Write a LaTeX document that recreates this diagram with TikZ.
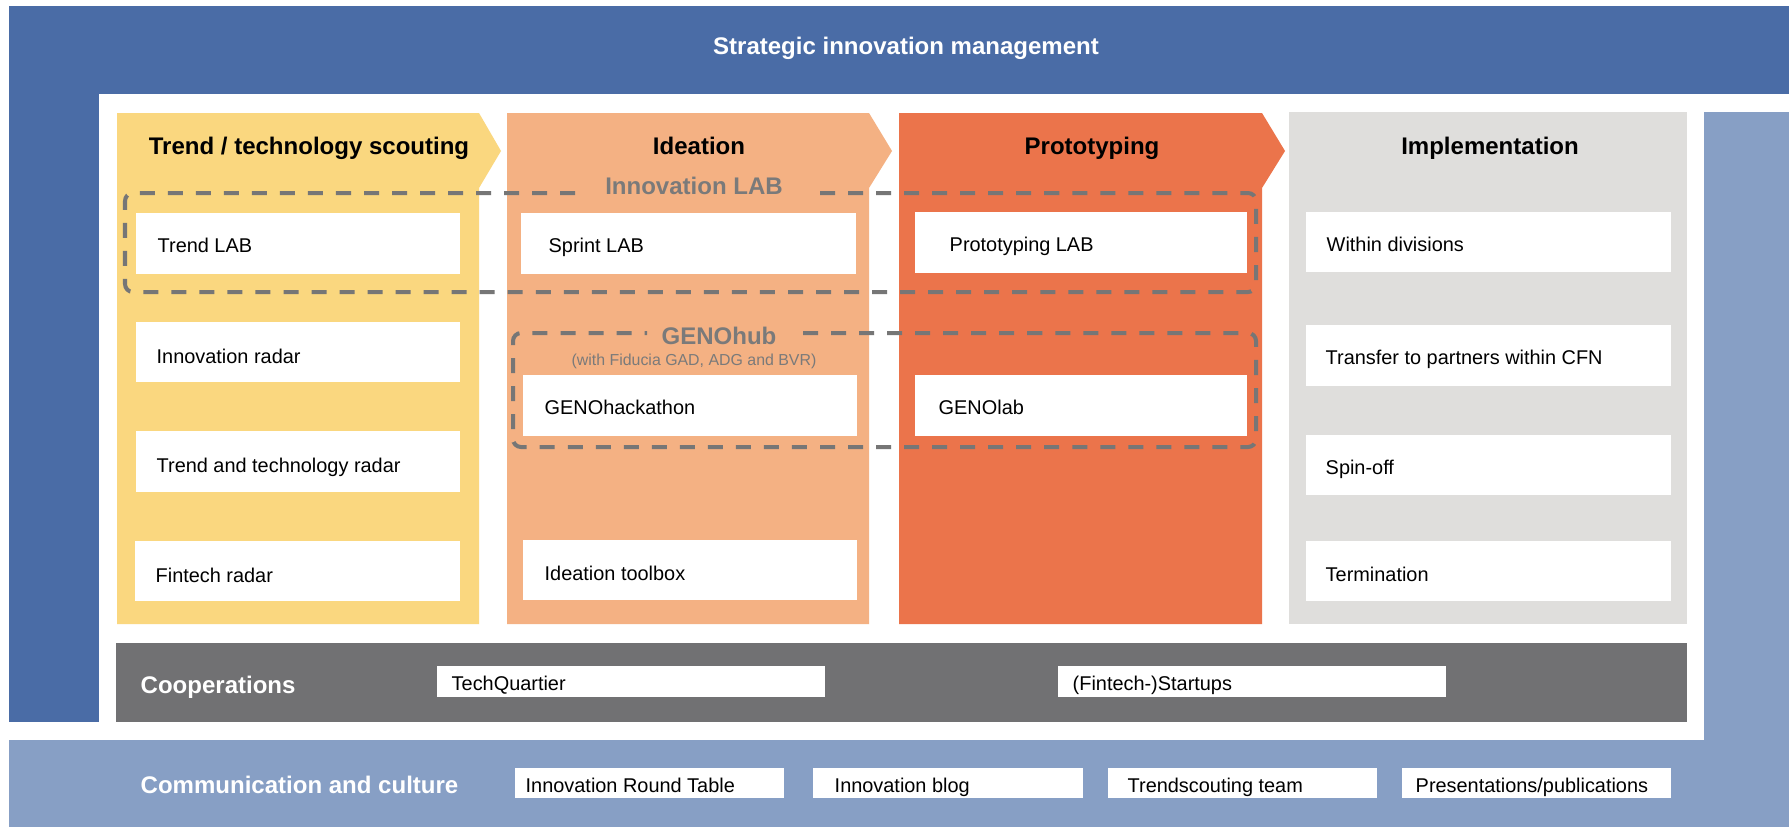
\documentclass[tikz,border=0pt]{standalone}
\usepackage{fontspec}
\setmainfont{Liberation Sans}

\definecolor{darkblue}{HTML}{4A6CA6}
\definecolor{lightblue}{HTML}{879FC5}
\definecolor{scoutyellow}{HTML}{FAD77F}
\definecolor{ideapeach}{HTML}{F4B183}
\definecolor{protoorange}{HTML}{EB744B}
\definecolor{implgrey}{HTML}{DFDEDC}
\definecolor{bargrey}{HTML}{717173}
\definecolor{dashgrey}{HTML}{767676}
\definecolor{labelgrey}{HTML}{7A7A7A}

\tikzset{
  cellbox/.style={fill=white, draw=none, anchor=north west, inner sep=0pt, outer sep=0pt},
  celltext/.style={anchor=base west, inner sep=0pt, font=\fontsize{5.66}{6.8}\selectfont, text=black},
  headtext/.style={anchor=base, inner sep=0pt, font=\fontsize{6.83}{8}\selectfont\bfseries, text=black},
  bandtext/.style={anchor=base west, inner sep=0pt, font=\fontsize{6.83}{8}\selectfont\bfseries, text=white},
  grouplabel/.style={anchor=base, inner sep=0pt, font=\fontsize{6.83}{8}\selectfont\bfseries, text=labelgrey},
  groupnote/.style={anchor=base, inner sep=0pt, font=\fontsize{4.52}{5.5}\selectfont, text=labelgrey},
  groupframe/.style={draw=dashgrey, line width=1.14pt, dash pattern=on 4.27pt off 3.7pt, rounded corners=0.08cm}
}

% white text cell: [extra drop of the baseline], name, x1, y1, x2, y2, left indent, text
\newcommand\mkcell[8][0]{%
  \node[cellbox, minimum width={(#5-#3)*0.01cm}, minimum height={(#6-#4)*0.01cm}] (#2) at (#3,#4) {};
  \node[celltext] (#2-text) at ([xshift={#7*0.01cm}, yshift={-0.09cm-#1*0.01cm}]#2.west) {#8};
}

\begin{document}
\begin{tikzpicture}[x=0.01cm, y=-0.01cm]
\useasboundingbox (0,0) rectangle (1789,827);
\fill[white] (0,0) rectangle (1789,827);

% outer frame: strategic management (dark) and communication (light)
\fill[darkblue] (9,6) rectangle (1789,94);
\fill[darkblue] (9,6) rectangle (99,722);
\fill[lightblue] (1704,112) rectangle (1789,827);
\fill[lightblue] (9,740) rectangle (1789,827);

\node[anchor=base, inner sep=0pt, font=\fontsize{6.83}{8}\selectfont\bfseries, text=white] (title) at (906,54) {Strategic innovation management};

% process columns
\fill[scoutyellow] (117,113) -- (479,113) -- (501,151) -- (479,188) -- (479,624) -- (117,624) -- cycle;
\fill[ideapeach]   (507,113) -- (869,113) -- (892,151) -- (869,188) -- (869,624) -- (507,624) -- cycle;
\fill[protoorange] (899,113) -- (1262,113) -- (1285,151) -- (1262,188) -- (1262,624) -- (899,624) -- cycle;
\fill[implgrey]    (1289,112) rectangle (1687,624);

\node[headtext] (h-scout) at (309,154) {Trend / technology scouting};
\node[headtext] (h-idea)  at (699,154) {Ideation};
\node[headtext] (h-proto) at (1092,154) {Prototyping};
\node[headtext] (h-impl)  at (1490,154) {Implementation};

% group frames
\draw[groupframe] (820,193) -- (1256,193) -- (1256,292) -- (125,292) -- (125,193) -- (580,193);
\node[grouplabel] (innolab) at (694,194) {Innovation LAB};

\draw[groupframe] (803,333) -- (1256,333) -- (1256,447) -- (513,447) -- (513,333) -- (647,333);
\node[grouplabel] (genohub) at (719,344) {GENOhub};
\node[groupnote] (genohub-note) at (694,365) {(with Fiducia GAD, ADG and BVR)};

% scouting
\mkcell{trendlab}{136}{213}{460}{274}{21}{Trend LAB}
\mkcell[2]{innoradar}{136}{322}{460}{382}{20}{Innovation radar}
\mkcell[2]{techradar}{136}{431}{460}{492}{20}{Trend and technology radar}
\mkcell[2]{fintechradar}{135}{541}{460}{601}{20}{Fintech radar}

% ideation
\mkcell{sprintlab}{521}{213}{856}{274}{27}{Sprint LAB}
\mkcell{genohack}{523}{375}{857}{436}{21}{GENOhackathon}
\mkcell[1]{ideatoolbox}{523}{540}{857}{600}{21}{Ideation toolbox}

% prototyping
\mkcell{protolab}{915}{212}{1247}{273}{34}{Prototyping LAB}
\mkcell{genolab}{915}{375}{1247}{436}{23}{GENOlab}

% implementation
\mkcell{withindiv}{1306}{212}{1671}{272}{20}{Within divisions}
\mkcell{transfer}{1306}{325}{1671}{386}{19}{Transfer to partners within CFN}
\mkcell{spinoff}{1306}{435}{1671}{495}{19}{Spin-off}
\mkcell[1]{termination}{1306}{541}{1671}{601}{19}{Termination}

% cooperations bar
\fill[bargrey] (116,643) rectangle (1687,722);
\node[bandtext] (coop) at (140,693) {Cooperations};
\mkcell{techquartier}{437}{666}{825}{697}{14}{TechQuartier}
\mkcell{startups}{1058}{666}{1446}{697}{14}{(Fintech-)Startups}

% communication and culture band
\node[bandtext] (comm) at (140,793) {Communication and culture};
\mkcell{roundtable}{515}{768}{784}{798}{10}{Innovation Round Table}
\mkcell{blog}{813}{768}{1083}{798}{21}{Innovation blog}
\mkcell{scoutteam}{1108}{768}{1377}{798}{19}{Trendscouting team}
\mkcell{publications}{1402}{768}{1671}{798}{13}{Presentations/publications}
\end{tikzpicture}
\end{document}
